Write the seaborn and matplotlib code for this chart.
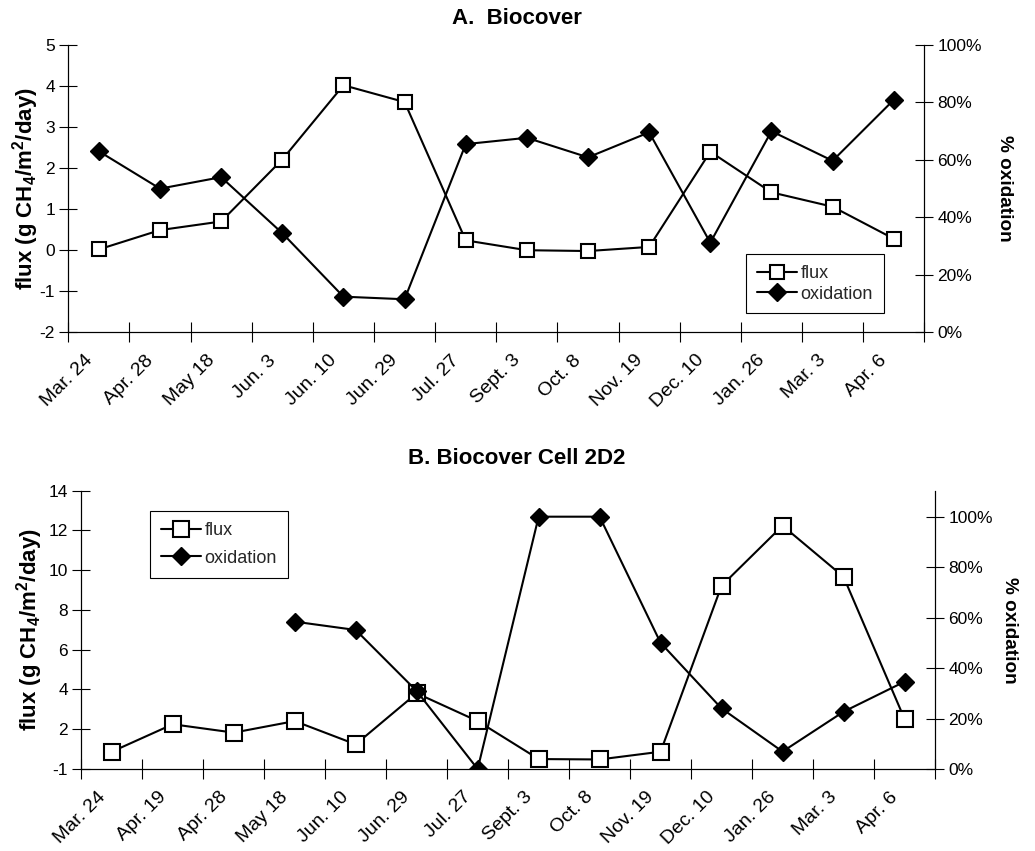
import numpy as np
import pandas as pd
import matplotlib
matplotlib.use("Agg")
import matplotlib.pyplot as plt
import seaborn as sns
from matplotlib.ticker import PercentFormatter, FixedLocator
from matplotlib.lines import Line2D

# ---- data -------------------------------------------------------------
dates_a = ["Mar. 24", "Apr. 28", "May 18", "Jun. 3", "Jun. 10", "Jun. 29", "Jul. 27",
           "Sept. 3", "Oct. 8", "Nov. 19", "Dec. 10", "Jan. 26", "Mar. 3", "Apr. 6"]
flux_a = [0.02, 0.49, 0.70, 2.21, 4.02, 3.61, 0.24,
          0.00, -0.02, 0.08, 2.40, 1.41, 1.06, 0.28]
oxid_a = [0.63, 0.50, 0.54, 0.345, 0.124, 0.115, 0.655,
          0.677, 0.609, 0.696, 0.312, 0.70, 0.597, 0.809]

dates_b = ["Mar. 24", "Apr. 19", "Apr. 28", "May 18", "Jun. 10", "Jun. 29", "Jul. 27",
           "Sept. 3", "Oct. 8", "Nov. 19", "Dec. 10", "Jan. 26", "Mar. 3", "Apr. 6"]
flux_b = [0.87, 2.25, 1.83, 2.41, 1.24, 3.81, 2.41,
          0.50, 0.48, 0.87, 9.22, 12.24, 9.67, 2.52]
oxid_b = [np.nan, np.nan, np.nan, 0.584, 0.551, 0.309, 0.0,
          1.00, 1.00, 0.50, 0.24, 0.069, 0.227, 0.346]

yticks_b = [0, 2, 4, 6, 8, 10, 12, 14]
ytick_labels_b = ["-1", "2", "4", "6", "8", "10", "12", "14"]

# ---- style ------------------------------------------------------------
sns.set_theme(style="white")
plt.rcParams["font.family"] = ["Liberation Sans", "DejaVu Sans"]
plt.rcParams["mathtext.default"] = "regular"
plt.rcParams["axes.edgecolor"] = "black"
plt.rcParams["axes.linewidth"] = 0.8

TICK_FS = 12.5
XTICK_FS = 14
LEG_FS = 13
FLUX_LABEL_FS = 16
OX_LABEL_FS = 13.7
TITLE_FS = 16
LABEL_SHIFT = 0.25   # rotated date labels sit slightly left of each category centre
W, H = 1035, 851

fig = plt.figure(figsize=(W / 100, H / 100), dpi=100)


def frac(left, top, right, bottom):
    return [left / W, 1 - bottom / H, (right - left) / W, (bottom - top) / H]


def draw_panel(rect, dates, flux, oxid, ylim, yticks, yticklabels, ylim2,
               sq_size, legend_anchor, legend_loc, label_spacing,
               left_pad, right_pad):
    ax = fig.add_axes(rect)
    ax2 = ax.twinx()
    n = len(dates)
    df = pd.DataFrame({"pos": np.arange(n), "flux": flux, "oxid": oxid})

    sns.lineplot(data=df, x="pos", y="flux", ax=ax, color="black", lw=1.5,
                 marker="s", markersize=sq_size, markerfacecolor="white",
                 markeredgecolor="black", markeredgewidth=1.5,
                 sort=False, errorbar=None, label="flux", legend=False)
    sns.lineplot(data=df.dropna(), x="pos", y="oxid", ax=ax2, color="black", lw=1.5,
                 marker="D", markersize=9.5, markerfacecolor="black",
                 markeredgecolor="black", markeredgewidth=1.0,
                 sort=False, errorbar=None, label="oxidation", legend=False)

    for a in (ax, ax2):
        a.set_xlim(-0.5, n - 0.5)
        a.spines["top"].set_visible(False)
        for s in ("left", "right", "bottom"):
            a.spines[s].set_color("black")
            a.spines[s].set_linewidth(0.8)
        a.set_xlabel("")
        a.set_ylabel("")

    ax.set_ylim(*ylim)
    ax.yaxis.set_major_locator(FixedLocator(yticks))
    ax.set_yticklabels(yticklabels)
    ax2.set_ylim(*ylim2)
    ax2.yaxis.set_major_locator(FixedLocator([0, 0.2, 0.4, 0.6, 0.8, 1.0]))
    ax2.yaxis.set_major_formatter(PercentFormatter(1.0, decimals=0))

    # date labels near category centres, tick marks at category boundaries
    ax.set_xticks(np.arange(n) - LABEL_SHIFT)
    ax.set_xticklabels(dates, rotation=45, ha="right", va="top",
                       rotation_mode="anchor", fontsize=XTICK_FS)
    ax.set_xticks(np.arange(n + 1) - 0.5, minor=True)
    ax.tick_params(axis="x", which="major", length=0, pad=14)
    ax.tick_params(axis="x", which="minor", direction="inout", length=14,
                   width=0.8, color="black", bottom=True)
    ax2.tick_params(axis="x", which="both", bottom=False, labelbottom=False)
    ax.tick_params(axis="y", direction="inout", length=13, width=0.8,
                   color="black", labelsize=TICK_FS, labelcolor="black", pad=3,
                   left=True)
    ax2.tick_params(axis="y", direction="inout", length=13, width=0.8,
                    color="black", labelsize=TICK_FS, labelcolor="black", pad=3,
                    right=True)
    ax.tick_params(axis="x", labelcolor="black")

    ax.set_ylabel(r"flux (g CH$_4$/m$^2$/day)", fontsize=FLUX_LABEL_FS,
                  fontweight="bold", color="black", labelpad=left_pad)
    ax2.set_ylabel("% oxidation", fontsize=OX_LABEL_FS, fontweight="bold",
                   color="black", rotation=-90, labelpad=right_pad)

    handles = [
        Line2D([], [], color="black", lw=1.5, marker="s", markersize=sq_size,
               markerfacecolor="white", markeredgecolor="black", markeredgewidth=1.5),
        Line2D([], [], color="black", lw=1.5, marker="D", markersize=9.5,
               markerfacecolor="black", markeredgecolor="black"),
    ]
    leg = ax2.legend(handles, ["flux", "oxidation"], loc=legend_loc,
                     bbox_to_anchor=legend_anchor, borderaxespad=0,
                     fontsize=LEG_FS, frameon=True, fancybox=False,
                     edgecolor="black", framealpha=1, handlelength=2.2,
                     handletextpad=0.2, labelspacing=label_spacing,
                     borderpad=0.6)
    leg.get_frame().set_linewidth(0.8)
    return ax, ax2


draw_panel(frac(68.3, 45, 924.3, 332.3), dates_a, flux_a, oxid_a,
           (-2, 5), list(range(-2, 6)), [str(v) for v in range(-2, 6)], (0, 1),
           9.5, (0.792, 0.066), "lower left", 0.2, -1, 22)

draw_panel(frac(81.3, 490.7, 935, 769), dates_b, flux_b, oxid_b,
           (0, 14), yticks_b, ytick_labels_b, (0, 1.103),
           11, (0.081, 0.927), "upper left", 0.6, 2.6, 18)

fig.text(517 / W, 1 - 18 / H, "A.  Biocover", ha="center", va="center",
         fontsize=TITLE_FS, fontweight="bold", color="black")
fig.text(517 / W, 1 - 458 / H, "B. Biocover Cell 2D2", ha="center", va="center",
         fontsize=TITLE_FS, fontweight="bold", color="black")

fig.savefig("out.png", dpi=100, facecolor="white")
